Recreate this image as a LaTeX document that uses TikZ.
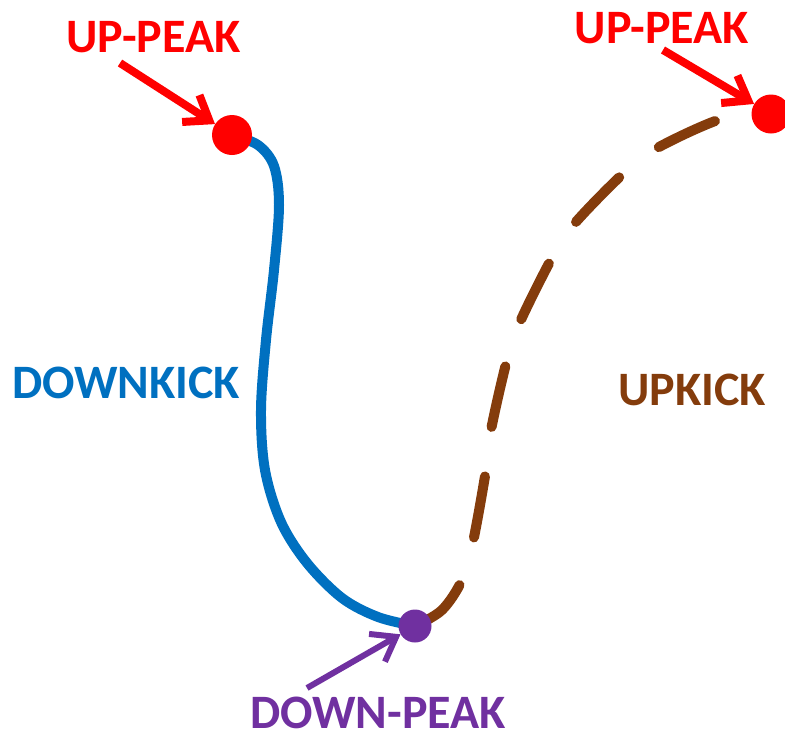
\documentclass[tikz,border=0pt]{standalone}
\usepackage{fontspec}
\setmainfont{Carlito}
\usetikzlibrary{arrows.meta,backgrounds}

\definecolor{peakred}{HTML}{FF0000}
\definecolor{kickblue}{HTML}{0070C0}
\definecolor{kickbrown}{HTML}{843C0C}
\definecolor{peakpurple}{HTML}{7030A0}

\tikzset{
  label text/.style={font=\fontsize{48}{48}\selectfont\bfseries, inner sep=0pt, anchor=base},
  peak dot/.style={circle, fill=#1, inner sep=0pt},
  pointer/.style={line width=#1, -{Straight Barb[length=22pt, width=32pt, line width=#1]}},
  kick line/.style={line width=10pt, line cap=round, line join=round},
}

\begin{document}
\begin{tikzpicture}[x=1pt, y=-1pt]
  \useasboundingbox (0,0) rectangle (785,740);

  % peaks
  \node[peak dot=peakred, minimum size=40pt] (upL) at (232,135) {};
  \node[peak dot=peakred, minimum size=39pt] (upR) at (771,114) {};
  \node[peak dot=peakpurple, minimum size=33pt] (down) at (415,626) {};

  % labels
  \node[label text, text=peakred] (labUpL) at (153.5,52) {UP-PEAK};
  \node[label text, text=peakred] (labUpR) at (662,43) {UP-PEAK};
  \node[label text, text=peakpurple] (labDown) at (378,728) {DOWN-PEAK};
  \node[label text, text=kickblue] (labDK) at (126,398) {DOWNKICK};
  \node[label text, text=kickbrown] (labUK) at (692,405) {UPKICK};

  % arrow tails
  \coordinate (tailL) at (120,63);
  \coordinate (tailR) at (663,50);
  \coordinate (tailD) at (307,688);

  \begin{pgfonlayer}{background}
    % downkick: solid blue
    \draw[kick line, kickblue] plot[smooth, tension=0.55] coordinates {
      (upL.center) (258,145) (274,166) (279,205) (274,270) (266,340)
      (261,410) (265,470) (281,522) (307,563) (342,598) (378,617) (down.center)};
    % upkick: dashed brown
    \draw[kick line, kickbrown, dash pattern=on 62pt off 50pt]
      plot[smooth, tension=0.55] coordinates {
      (down.center) (442,610) (462,580) (473,542) (486,470) (491,430)
      (507,360) (520,322) (553,256) (575,223) (626,171) (659,147)
      (724,118) (upR.center)};
  \end{pgfonlayer}

  % pointers
  \draw[pointer=8pt, peakred] (tailL) -- (upL);
  \draw[pointer=8pt, peakred] (tailR) -- (upR);
  \draw[pointer=6pt, peakpurple] (tailD) -- (down);
\end{tikzpicture}
\end{document}
